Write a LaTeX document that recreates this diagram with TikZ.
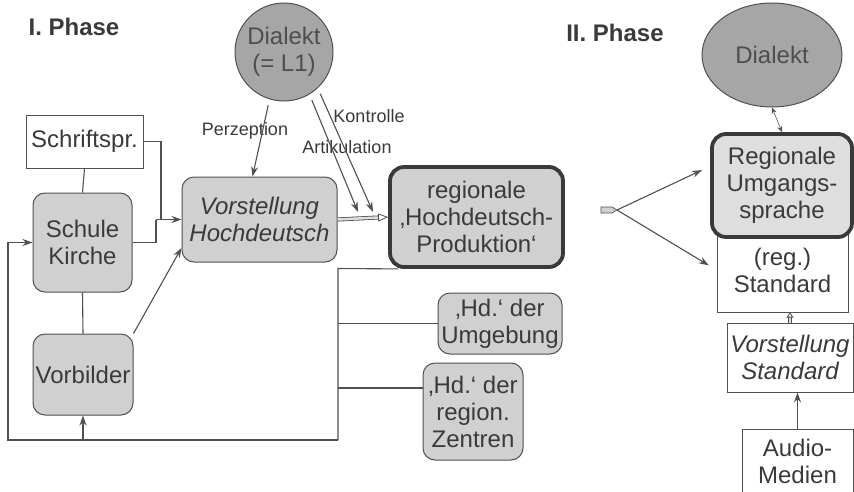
\documentclass[tikz,border=0pt]{standalone}
\usepackage{fontspec}
\setmainfont{Liberation Sans}
\usepackage{xcolor}
\usetikzlibrary{calc,arrows.meta,shapes.geometric}
\definecolor{ink}{HTML}{3A3A3A}
\definecolor{edge}{HTML}{505050}
\definecolor{fillbox}{HTML}{D0D0D0}
\definecolor{filllight}{HTML}{DEDEDE}
\definecolor{fillball}{HTML}{A6A6A6}
\tikzset{
  plain/.style={draw=edge, line width=1pt, fill=white, text=ink, align=center, inner sep=0pt},
  soft/.style={plain, fill=fillbox, rounded corners=12pt},
  heavy/.style={soft, draw=ink, line width=3.8pt, rounded corners=14pt},
  ball/.style={draw=edge, line width=1pt, fill=fillball, text=ink!90, align=center, inner sep=0pt},
  wire/.style={draw=edge, line width=1.1pt},
  arr/.style={wire, -{Stealth[length=10pt,width=7pt]}},
  dbl/.style={draw=edge, line width=0.8pt, double=filllight, double distance=2.5pt, -{Triangle[open,length=10pt,width=8pt]}},
  labm/.style={text=ink, font=\fontsize{18}{20}\selectfont},
  head/.style={text=ink, font=\fontsize{24}{27}\selectfont\bfseries},
  every node/.style={font=\fontsize{24}{27}\selectfont}
}

\begin{document}
\begin{tikzpicture}[x=1pt,y=-1pt]
  \useasboundingbox (0,0) rectangle (854,491);

  \node[head] (phaseI) at (74,27) {I. Phase};
  \node[head] (phaseII) at (615,33) {II. Phase};

  \node[ball, circle, minimum size=98pt] (dial) at (284,52) {Dialekt\\(= L1)};
  \node[plain, minimum width=117pt, minimum height=53pt] (schrift) at (84.5,141.5) {Schriftspr.};
  \node[soft, minimum width=99pt, minimum height=99pt] (schule) at (82.5,242.5) {Schule\\Kirche};
  \node[soft, minimum width=100pt, minimum height=81pt] (vorb) at (83,374.5) {Vorbilder};
  \node[soft, minimum width=155pt, minimum height=85pt, font=\fontsize{24}{27}\selectfont\itshape] (vorst) at (259.5,219.5) {Vorstellung\\Hochdeutsch};
  \node[heavy, minimum width=173pt, minimum height=100pt] (prod) at (476.5,217) {regionale\\‚Hochdeutsch-\\Produktion‘};
  \node[soft, minimum width=124pt, minimum height=61pt] (umg) at (500,323.5) {‚Hd.‘ der\\Umgebung};
  \node[soft, minimum width=100pt, minimum height=97pt] (zentr) at (473,411.5) {‚Hd.‘ der\\region.\\Zentren};

  \node[labm] (lperz) at (245,131) {Perzeption};
  \node[labm] (lkontr) at (369,116) {Kontrolle};
  \node[labm] (lartik) at (347,147) {Artikulation};

  \coordinate (j1) at (161,219.5);
  \coordinate (j2) at (156,219.5);
  \coordinate (artend) at (358,212);
  \coordinate (kontend) at (373,212);
  \coordinate (fbtop) at (338,268.5);
  \coordinate (fbbot) at (338,440);
  \coordinate (fbleft) at (8,440);

  \draw[wire] (schrift.south) -- (schule.north);
  \draw[wire] (schule.south) -- (vorb.north);
  \draw[wire] (schrift.east) -| (j1);
  \draw[wire] (schule.east) -| (j2);
  \draw[arr] (j2) -- (vorst.west);
  \draw[arr] (vorb.north east) -- (vorst.200);
  \draw[arr, shorten <=6pt] (dial.253) -- ($(vorst.north)+(-7,0)$);
  \draw[arr, shorten <=6pt] (dial.301) -- (artend);
  \draw[arr, shorten <=6pt] (dial.313) -- (kontend);
  \draw[dbl] (vorst.east) -- (prod.west);

  \draw[wire] ([xshift=10pt]prod.south west) -- (fbtop) -- (fbbot);
  \draw[wire] (umg.west) -- (umg.west -| fbtop);
  \draw[wire] (zentr.155) -- (zentr.155 -| fbtop);
  \draw[arr] (fbbot) -- (fbleft) |- (schule.west);
  \draw[arr] (vorb.south |- fbbot) -- (vorb.south);

  \node[ball, ellipse, minimum width=140pt, minimum height=104pt] (dial2) at (772,55) {Dialekt};
  \node[plain, minimum width=131pt, minimum height=84pt] (std) at (782.5,270) {(reg.)\\Standard};
  \node[heavy, fill=filllight, minimum width=140pt, minimum height=103pt] (umgs) at (782,185.5) {Regionale\\Umgangs-\\sprache};
  \node[plain, minimum width=126pt, minimum height=69pt, font=\fontsize{24}{27}\selectfont\itshape] (vstd) at (790,357.5) {Vorstellung\\Standard};
  \node[plain, minimum width=111pt, minimum height=64pt] (audio) at (797.5,461) {Audio-\\Medien};

  \draw[draw=edge, fill=fillbox, line width=0.7pt] (601,207) -- (612,207) -- (617,210) -- (612,213) -- (601,213) -- cycle;
  \coordinate (tagtip) at (617,210);

  \draw[arr, shorten >=9pt] (tagtip) -- (umgs.165);
  \draw[arr, shorten >=9pt] (tagtip) -- (std.west);
  \draw[wire, line width=0.6pt, {Stealth[length=6pt,width=5pt]}-{Stealth[length=6pt,width=5pt]}] (dial2.south) -- (umgs.north);
  \draw[dbl, -{Triangle[open,length=5pt,width=7pt]}] (vstd.north) -- (vstd.north |- std.south);
  \draw[arr] (audio.north) -- (audio.north |- vstd.south);
\end{tikzpicture}
\end{document}
